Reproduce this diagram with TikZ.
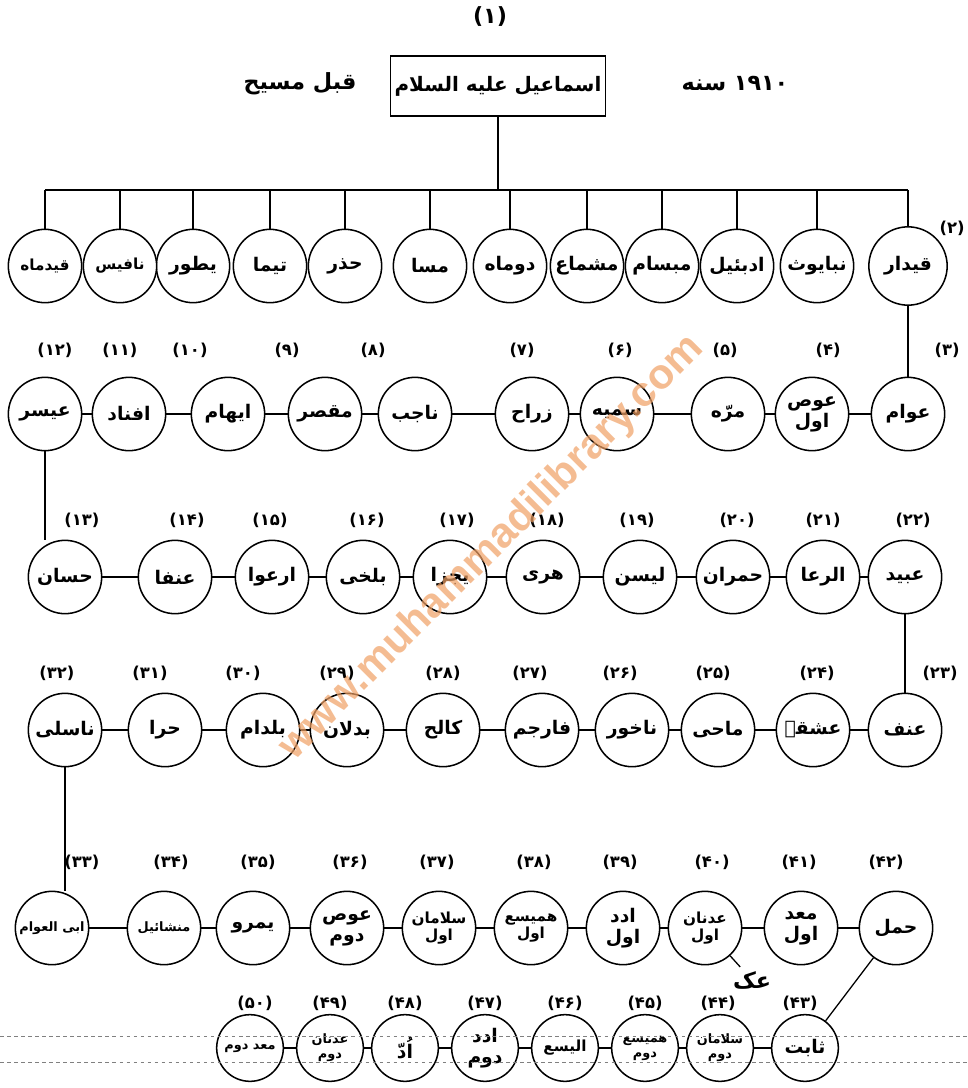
\documentclass[tikz,border=0pt]{standalone}
\usepackage{fontspec}
\usepackage{tikz}
\newfontfamily\urdu[Script=Arabic]{DejaVu Sans}
\newfontfamily\wmfont{Liberation Sans}
\TeXXeTstate=1
\definecolor{wmorange}{RGB}{240,160,100}

\begin{document}
\begin{tikzpicture}[x=0.03cm, y=-0.03cm,
  person/.style={circle, draw, line width=1.3pt, fill=white,
    minimum size=2.2cm, inner sep=0pt, align=center,
    font=\urdu\bfseries\fontsize{16}{18}\selectfont},
  small/.style={font=\urdu\bfseries\fontsize{13}{15}\selectfont},
  tiny/.style={font=\urdu\bfseries\fontsize{11}{13}\selectfont},
  num/.style={font=\urdu\bfseries\fontsize{14}{16}\selectfont, inner sep=1pt},
  link/.style={line width=1.1pt},
  rule/.style={gray, dashed, line width=0.5pt}]
\useasboundingbox (0,0) rectangle (967,1088);
%
% title
\node[num, font=\urdu\bfseries\fontsize{19}{21}\selectfont] (n1) at (490,17) {(۱)};
\node[draw, line width=1.3pt, minimum width=6.4cm, minimum height=1.8cm,
  font=\urdu\bfseries\fontsize{17}{19}\selectfont] (root) at (498,86)
  {\beginR اسماعیل علیه السلام\endR};
\node[font=\urdu\bfseries\fontsize{19}{21}\selectfont] (bc) at (300,84) {\beginR قبل مسیح\endR};
\node[font=\urdu\bfseries\fontsize{19}{21}\selectfont] (yr) at (735,84)
  {\beginR\beginL ۱۹۱۰\endL{} سنه\endR};
%
% sons of Ismail
\coordinate (bus) at (0,190);
\node[person, minimum size=2.35cm] (c2) at (908,266) {\beginR قیدار\endR};
\node[person] (k1) at (817,266) {\beginR نبایوث\endR};
\node[person] (k2) at (737,266) {\beginR ادبئیل\endR};
\node[person] (k3) at (662,266) {\beginR مبسام\endR};
\node[person] (k4) at (587,266) {\beginR مشماع\endR};
\node[person] (k5) at (510,266) {\beginR دوماه\endR};
\node[person] (k6) at (430,266) {\beginR مسا\endR};
\node[person] (k7) at (345,266) {\beginR حذر\endR};
\node[person] (k8) at (270,266) {\beginR تیما\endR};
\node[person] (k9) at (193,266) {\beginR یطور\endR};
\node[person, small] (k10) at (120,266) {\beginR نافیس\endR};
\node[person, small] (k11) at (45,266) {\beginR قیدماه\endR};
\node[num] (n2) at (952,228) {(۲)};
\draw[link] (root.south) -- (root.south |- bus);
\draw[link] (k11.north |- bus) -- (c2.north |- bus);
\foreach \k in {c2,k1,k2,k3,k4,k5,k6,k7,k8,k9,k10,k11}
  \draw[link] (\k.north) -- (\k.north |- bus);
%
% row 2
\node[person] (c3) at (908,414) {\beginR عوام\endR};
\node[person] (c4) at (812,414) {\beginR عوص\endR\\\beginR اول\endR};
\node[person] (c5) at (728,414) {\beginR مرّه\endR};
\node[person] (c6) at (617,414) {\beginR سمیه\endR};
\node[person] (c7) at (532,414) {\beginR زراح\endR};
\node[person] (c8) at (415,414) {\beginR ناجب\endR};
\node[person] (c9) at (325,414) {\beginR مقصر\endR};
\node[person] (c10) at (228,414) {\beginR ایهام\endR};
\node[person] (c11) at (129,414) {\beginR افناد\endR};
\node[person] (c12) at (45,414) {\beginR عیسر\endR};
\node[num] (n3) at (947,350) {(۳)};
\node[num] (n4) at (828,350) {(۴)};
\node[num] (n5) at (725,350) {(۵)};
\node[num] (n6) at (620,350) {(۶)};
\node[num] (n7) at (522,350) {(۷)};
\node[num] (n8) at (373,350) {(۸)};
\node[num] (n9) at (287,350) {(۹)};
\node[num] (n10) at (190,350) {(۱۰)};
\node[num] (n11) at (120,350) {(۱۱)};
\node[num] (n12) at (55,350) {(۱۲)};
\draw[link] (c2) -- (c3);
\draw[link] (c3) -- (c4) -- (c5) -- (c6) -- (c7) -- (c8) -- (c9) -- (c10) -- (c11) -- (c12);
%
% row 3
\node[person] (c13) at (65,577) {\beginR حسان\endR};
\node[person] (c14) at (175,577) {\beginR عنفا\endR};
\node[person] (c15) at (272,577) {\beginR ارعوا\endR};
\node[person] (c16) at (363,577) {\beginR بلخی\endR};
\node[person] (c17) at (450,577) {\beginR یجزا\endR};
\node[person] (c18) at (543,577) {\beginR هری\endR};
\node[person] (c19) at (640,577) {\beginR لیسن\endR};
\node[person] (c20) at (733,577) {\beginR حمران\endR};
\node[person] (c21) at (823,577) {\beginR الرعا\endR};
\node[person] (c22) at (905,577) {\beginR عبید\endR};
\node[num] (n13) at (82,520) {(۱۳)};
\node[num] (n14) at (187,520) {(۱۴)};
\node[num] (n15) at (270,520) {(۱۵)};
\node[num] (n16) at (367,520) {(۱۶)};
\node[num] (n17) at (457,520) {(۱۷)};
\node[num] (n18) at (547,520) {(۱۸)};
\node[num] (n19) at (637,520) {(۱۹)};
\node[num] (n20) at (737,520) {(۲۰)};
\node[num] (n21) at (823,520) {(۲۱)};
\node[num] (n22) at (913,520) {(۲۲)};
\draw[link] (c12.south) -- (c12.south |- c13.north);
\draw[link] (c13) -- (c14) -- (c15) -- (c16) -- (c17) -- (c18) -- (c19) -- (c20) -- (c21) -- (c22);
%
% row 4
\node[person] (c23) at (905,730) {\beginR عنف\endR};
\node[person] (c24) at (813,730) {\beginR عشقے\endR};
\node[person] (c25) at (718,730) {\beginR ماحی\endR};
\node[person] (c26) at (632,730) {\beginR ناخور\endR};
\node[person] (c27) at (542,730) {\beginR فارجم\endR};
\node[person] (c28) at (443,730) {\beginR کالح\endR};
\node[person] (c29) at (347,730) {\beginR بدلان\endR};
\node[person] (c30) at (263,730) {\beginR بلدام\endR};
\node[person] (c31) at (165,730) {\beginR حرا\endR};
\node[person] (c32) at (65,730) {\beginR ناسلی\endR};
\node[num] (n23) at (940,673) {(۲۳)};
\node[num] (n24) at (817,673) {(۲۴)};
\node[num] (n25) at (713,673) {(۲۵)};
\node[num] (n26) at (620,673) {(۲۶)};
\node[num] (n27) at (530,673) {(۲۷)};
\node[num] (n28) at (443,673) {(۲۸)};
\node[num] (n29) at (337,673) {(۲۹)};
\node[num] (n30) at (243,673) {(۳۰)};
\node[num] (n31) at (150,673) {(۳۱)};
\node[num] (n32) at (57,673) {(۳۲)};
\draw[link] (c22) -- (c23);
\draw[link] (c23) -- (c24) -- (c25) -- (c26) -- (c27) -- (c28) -- (c29) -- (c30) -- (c31) -- (c32);
%
% row 5
\node[person, tiny] (c33) at (52,928) {\beginR ابی العوام\endR};
\node[person, tiny] (c34) at (164,928) {\beginR منشائیل\endR};
\node[person] (c35) at (253,928) {\beginR یمرو\endR};
\node[person] (c36) at (347,928) {\beginR عوص\endR\\\beginR دوم\endR};
\node[person, small] (c37) at (439,928) {\beginR سلامان\endR\\\beginR اول\endR};
\node[person, small] (c38) at (531,928) {\beginR همیسع\endR\\\beginR اول\endR};
\node[person] (c39) at (623,928) {\beginR ادد\endR\\\beginR اول\endR};
\node[person, small] (c40) at (705,928) {\beginR عدنان\endR\\\beginR اول\endR};
\node[person] (c41) at (801,928) {\beginR معد\endR\\\beginR اول\endR};
\node[person] (c42) at (896,928) {\beginR حمل\endR};
\node[num] (n33) at (82,862) {(۳۳)};
\node[num] (n34) at (171,862) {(۳۴)};
\node[num] (n35) at (258,862) {(۳۵)};
\node[num] (n36) at (350,862) {(۳۶)};
\node[num] (n37) at (437,862) {(۳۷)};
\node[num] (n38) at (534,862) {(۳۸)};
\node[num] (n39) at (620,862) {(۳۹)};
\node[num] (n40) at (712,862) {(۴۰)};
\node[num] (n41) at (799,862) {(۴۱)};
\node[num] (n42) at (886,862) {(۴۲)};
\node[font=\urdu\bfseries\fontsize{19}{21}\selectfont] (akk) at (752,980) {\beginR عک\endR};
\draw[link] (c32.south) -- (c32.south |- c33.north);
\draw[link] (c33) -- (c34) -- (c35) -- (c36) -- (c37) -- (c38) -- (c39) -- (c40) -- (c41) -- (c42);
\draw[link] (c40) -- (akk);
%
% row 6
\node[person, minimum size=2cm] (c43) at (805,1048) {\beginR ثابت\endR};
\node[person, minimum size=2cm, tiny] (c44) at (720,1048) {\beginR سلامان\endR\\\beginR دوم\endR};
\node[person, minimum size=2cm, tiny] (c45) at (645,1048) {\beginR همیسع\endR\\\beginR دوم\endR};
\node[person, minimum size=2cm, small] (c46) at (565,1048) {\beginR الیسع\endR};
\node[person, minimum size=2cm] (c47) at (485,1048) {\beginR ادد\endR\\\beginR دوم\endR};
\node[person, minimum size=2cm] (c48) at (405,1048) {\beginR اُدّ\endR};
\node[person, minimum size=2cm, tiny] (c49) at (330,1048) {\beginR عدنان\endR\\\beginR دوم\endR};
\node[person, minimum size=2cm, tiny] (c50) at (250,1048) {\beginR معد دوم\endR};
\node[num] (n43) at (800,1003) {(۴۳)};
\node[num] (n44) at (718,1003) {(۴۴)};
\node[num] (n45) at (645,1003) {(۴۵)};
\node[num] (n46) at (565,1003) {(۴۶)};
\node[num] (n47) at (485,1003) {(۴۷)};
\node[num] (n48) at (405,1003) {(۴۸)};
\node[num] (n49) at (330,1003) {(۴۹)};
\node[num] (n50) at (255,1003) {(۵۰)};
\draw[link] (c42) -- (c43);
\draw[link] (c43) -- (c44) -- (c45) -- (c46) -- (c47) -- (c48) -- (c49) -- (c50);
% ruled lines of the page
\draw[rule] (0,1036) -- (967,1036);
\draw[rule] (0,1062) -- (967,1062);
%
% watermark
\node[rotate=45, text=wmorange, opacity=0.7,
  font=\wmfont\bfseries\fontsize{36}{38}\selectfont] (wm) at (492,548)
  {www.muhammadilibrary.com};
\end{tikzpicture}
\end{document}
